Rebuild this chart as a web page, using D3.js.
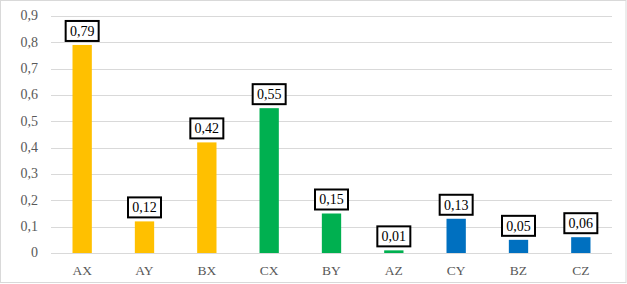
<html>
<head>
<script src="https://d3js.org/d3.v7.min.js"></script>
<style>
  body { margin: 0; background: #fff; }
  #chart text { font-family: "Liberation Serif", "Times New Roman", serif; }
</style>
</head>
<body>
<svg id="chart" width="627" height="284"></svg>
<script>
  // data
  const categories = ["AX", "AY", "BX", "CX", "BY", "AZ", "CY", "BZ", "CZ"];
  const values = [0.79, 0.12, 0.42, 0.55, 0.15, 0.01, 0.13, 0.05, 0.06];
  const groups = ["A", "A", "A", "B", "B", "B", "C", "C", "C"];
  const yTicks = [0, 0.1, 0.2, 0.3, 0.4, 0.5, 0.6, 0.7, 0.8, 0.9];

  const groupColor = { A: "#FFC000", B: "#00B050", C: "#0070C0" };
  const font = "Liberation Serif";

  const svg = d3.select("#chart");
  const margin = { top: 16, right: 15, bottom: 31, left: 51 };
  const width = 627, height = 284;

  // outer frame
  svg.append("rect")
     .attr("x", 0.5).attr("y", 0.5)
     .attr("width", width - 1.5).attr("height", height - 2)
     .attr("fill", "#fff")
     .attr("stroke", "#d9d9d9");

  const x = d3.scaleBand()
              .domain(categories)
              .range([margin.left, width - margin.right])
              .paddingInner(0.69)
              .paddingOuter(0.345);

  const y = d3.scaleLinear()
              .domain([0, 0.9])
              .range([height - margin.bottom, margin.top]);

  const fmt = v => d3.format(".1f")(v).replace(".", ",");

  // gridlines
  svg.append("g").selectAll("line").data(yTicks).join("line")
     .attr("x1", margin.left).attr("x2", width - margin.right)
     .attr("y1", d => Math.round(y(d)) + 0.5).attr("y2", d => Math.round(y(d)) + 0.5)
     .attr("stroke", "#d9d9d9").attr("stroke-width", 1);

  // y labels
  svg.append("g").selectAll("text").data(yTicks).join("text")
     .attr("x", 38)
     .attr("y", d => y(d))
     .attr("dy", "0.32em")
     .attr("text-anchor", "end")
     .attr("font-family", font)
     .style("font-family", font)
     .attr("font-size", 14)
     .attr("fill", "#595959")
     .text(d => d === 0 ? "0" : fmt(d));

  // x labels
  svg.append("g").selectAll("text").data(categories).join("text")
     .attr("x", d => x(d) + x.bandwidth() / 2)
     .attr("y", height - margin.bottom + 22)
     .attr("text-anchor", "middle")
     .attr("font-family", font)
     .style("font-family", font)
     .attr("font-size", 13.5)
     .attr("fill", "#595959")
     .text(d => d);

  // bars
  svg.append("g").selectAll("rect").data(values).join("rect")
     .attr("x", (d, i) => x(categories[i]))
     .attr("width", x.bandwidth())
     .attr("y", d => y(d))
     .attr("height", d => y(0) - y(d))
     .attr("fill", (d, i) => groupColor[groups[i]]);

  // value labels in boxes
  const lab = svg.append("g").selectAll("g").data(values).join("g")
     .attr("transform", (d, i) => `translate(${x(categories[i]) + x.bandwidth() / 2},${y(d) - 14})`);

  lab.append("rect")
     .attr("x", -16.5).attr("y", -10)
     .attr("width", 33).attr("height", 20)
     .attr("fill", "#fff")
     .attr("stroke", "#000")
     .attr("stroke-width", 2);

  lab.append("text")
     .attr("text-anchor", "middle")
     .attr("dy", "0.35em")
     .attr("font-family", font)
     .style("font-family", font)
     .attr("font-size", 14)
     .attr("fill", "#000")
     .text(d => d.toFixed(2).replace(".", ","));
</script>
</body>
</html>
